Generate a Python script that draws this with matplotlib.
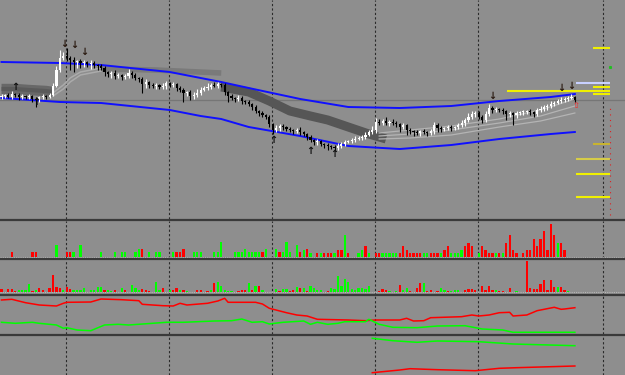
import numpy as np
import matplotlib
matplotlib.use("Agg")
import matplotlib.pyplot as plt
from matplotlib.lines import Line2D

BG = "#8e8e8e"
W, H = 625, 375

# ---- main chart: candle closes (open = previous close) ----
close = [
    124, 125, 123, 126, 125, 123, 124, 123, 124, 121,
    120, 123, 124, 123, 125, 134, 150, 162, 164, 162,
    160, 158, 159, 157, 158, 156, 157, 155, 154, 152,
    148, 146, 147, 144, 145, 143, 144, 147, 145, 142,
    141, 136, 138, 135, 134, 135, 133, 134, 137, 135,
    136, 132, 130, 127, 128, 124, 125, 127, 130, 132,
    133, 135, 134, 136, 135, 128, 124, 122, 121, 122,
    119, 118, 116, 113, 109, 107, 105, 103, 96, 90,
    92, 94, 93, 91, 90, 89, 90, 88, 86, 83,
    80, 78, 79, 76, 75, 74, 73, 72, 74, 76,
    78, 79, 80, 81, 82, 83, 85, 88, 90, 98,
    97, 99, 97, 98, 97, 96, 93, 95, 90, 89,
    88, 87, 89, 88, 87, 89, 95, 92, 91, 92,
    93, 92, 93, 95, 97, 100, 103, 106, 107, 103,
    100, 106, 112, 110, 111, 110, 109, 106, 107, 105,
    107, 108, 108, 109, 108, 106, 110, 111, 113, 114,
    116, 117, 119, 120, 121, 122, 123, 120,
]
first_open = 123
wick_up = [
    2, 1, 2, 3, 1, 2, 2, 1, 2, 1,
    2, 1, 2, 1, 2, 3, 4, 8, 4, 8,
    2, 3, 1, 2, 2, 1, 3, 2, 1, 2,
    2, 1, 2, 3, 2, 1, 2, 4, 2, 2,
    1, 2, 3, 1, 2, 2, 1, 3, 2, 1,
    2, 1, 2, 2, 1, 2, 3, 4, 3, 2,
    4, 2, 3, 2, 1, 2, 1, 2, 1, 3,
    2, 1, 2, 1, 2, 1, 2, 1, 2, 1,
    3, 2, 2, 1, 2, 1, 2, 3, 1, 1,
    2, 1, 2, 1, 1, 2, 1, 2, 3, 2,
    2, 1, 2, 3, 2, 2, 3, 2, 4, 4,
    3, 2, 4, 2, 3, 2, 1, 2, 1, 2,
    1, 2, 1, 2, 1, 2, 3, 2, 2, 1,
    2, 2, 1, 2, 3, 2, 4, 3, 2, 2,
    2, 3, 4, 2, 2, 1, 2, 1, 2, 1,
    2, 1, 2, 1, 2, 1, 2, 3, 2, 2,
    3, 2, 2, 3, 2, 2, 3, 1,
]
wick_dn = [
    2, 2, 1, 2, 2, 3, 2, 2, 2, 3,
    7, 2, 2, 2, 1, 1, 1, 2, 2, 3,
    10, 10, 6, 5, 4, 3, 5, 3, 4, 2,
    4, 3, 4, 3, 2, 3, 2, 2, 3, 2,
    3, 9, 4, 3, 2, 3, 2, 2, 3, 2,
    2, 3, 2, 9, 3, 4, 3, 2, 2, 1,
    2, 2, 1, 2, 2, 3, 6, 2, 3, 2,
    3, 2, 2, 3, 2, 3, 2, 2, 3, 4,
    2, 3, 3, 2, 2, 3, 2, 3, 2, 3,
    2, 3, 3, 2, 3, 4, 2, 3, 2, 2,
    2, 1, 2, 2, 1, 2, 2, 1, 2, 3,
    2, 2, 2, 3, 2, 3, 5, 2, 5, 3,
    4, 2, 3, 2, 3, 2, 3, 4, 3, 2,
    2, 3, 2, 2, 2, 3, 2, 2, 3, 2,
    3, 2, 2, 3, 2, 2, 3, 6, 3, 10,
    3, 2, 3, 2, 3, 3, 2, 2, 2, 3,
    2, 2, 1, 2, 2, 2, 1, 2,
]

# envelope bands
env_idx = [0, 17, 29, 49, 58, 64, 72, 87, 101, 116, 131, 145, 160, 167]
env_upper = [158, 157, 155, 148, 142, 138, 132, 121, 113, 112, 114, 119, 123, 126]
env_lower = [122, 118, 117, 110, 104, 101, 93, 84, 74, 71, 75, 81, 86, 88]

# moving average ribbon pieces
band_a_idx = [0, 4, 8, 13, 15]
band_a = [131, 131, 130, 129, 128]
curve_b_idx = [15, 18, 20, 23, 29]
curve_b1 = [127, 135, 142, 148, 152]
curve_b2 = [124, 131, 138, 145, 149]
band_c_idx = [29, 45, 64]
band_c = [151, 150, 147]
band_d_idx = [64, 72, 78, 84, 90, 95, 101, 107, 112]
band_d = [133, 128, 119, 109, 104, 100, 93, 86, 81]
light_idx = [110, 119, 131, 145, 157, 167]
light_1 = [87, 90, 94, 101, 110, 121]
light_2 = [84, 86, 90, 97, 104, 114]
light_3 = [81, 82, 85, 93, 99, 107]

# signal arrows
down_idx = [18.4, 21.2, 24, 143, 163, 166]
down_val = [176, 175, 168, 124, 132, 134]
up_idx = [4, 10, 79, 90, 97]
up_val = [133, 118, 80, 69, 66]

current_price = 120

# right-hand levels: price, start index, colour
lvl_price = [172, 137, 133, 129, 126, 76, 61, 46, 23]
lvl_start = [172.3, 167.3, 172.3, 147.2, 172.3, 172.3, 167.3, 167.3, 167.3]
lvl_color = ["#f0f000", "#c8d0ff", "#f0f000", "#f0f000", "#f0f000",
             "#c8b430", "#d6cc48", "#f0f000", "#f0f000"]
lvl_end = 177.2

separators = [18.75, 48.75, 78.75, 108.75, 138.75, 175.25]

# ---- histogram panel 1 ----
p1_idx = [3, 9, 10, 16, 19, 20, 21, 23, 29, 33,
          35, 36, 39, 40, 41, 43, 45, 46, 50, 51,
          52, 53, 56, 57, 58, 62, 63, 64, 68, 69,
          70, 71, 72, 73, 74, 75, 76, 77, 80, 81,
          82, 83, 84, 86, 87, 88, 89, 90, 92, 93,
          94, 95, 96, 97, 98, 99, 100, 101, 104, 105,
          106, 107, 109, 110, 111, 112, 113, 114, 115, 116,
          117, 118, 119, 120, 121, 122, 123, 124, 125, 126,
          127, 128, 129, 130, 131, 132, 133, 134, 135, 136,
          137, 139, 140, 141, 142, 143, 144, 145, 146, 147,
          148, 149, 150, 152, 153, 154, 155, 156, 157, 158,
          159, 160, 161, 162, 163, 164]
p1_val = [5, 5, 5, 12, 5, 5, 5, 12, 5, 5,
          5, 5, 5, 8, 8, 5, 5, 5, 5, 5,
          5, 8, 5, 5, 5, 5, 5, 15, 5, 5,
          5, 8, 5, 5, 5, 5, 5, 8, 8, 5,
          5, 15, 5, 12, 5, 7, 8, 4, 4, 4,
          4, 4, 4, 4, 7, 7, 22, 4, 4, 7,
          11, 4, 4, 4, 4, 4, 4, 4, 4, 4,
          11, 7, 4, 4, 4, 4, 4, 4, 4, 4,
          4, 4, 7, 11, 4, 4, 4, 7, 11, 14,
          11, 4, 11, 7, 4, 4, 4, 4, 4, 14,
          22, 7, 4, 4, 7, 7, 18, 11, 18, 26,
          7, 33, 22, 14, 14, 7]
p1_col = ("rrrgrrgggg" "ggggrggggr" "rrgggggggg" "ggggggrggr"
          "ggggrgrgrg" "rrrgrrgrgg" "rgrrgggggr" "rrrrrrggrr"
          "rgrrggggrr" "rgrrrrgrgr" "rrrrrrrrrr" "rrrgrr")

# ---- histogram panel 2 ----
p2_idx = [0, 2, 3, 4, 5, 6, 7, 8, 9, 10,
          11, 12, 14, 15, 16, 17, 18, 19, 20, 21,
          22, 23, 24, 26, 27, 28, 29, 30, 31, 32,
          33, 35, 36, 38, 39, 40, 41, 42, 43, 45,
          46, 47, 49, 50, 51, 52, 53, 54, 57, 58,
          60, 61, 62, 63, 64, 65, 66, 67, 69, 70,
          71, 72, 73, 74, 75, 76, 80, 81, 82, 83,
          84, 85, 86, 87, 88, 89, 90, 91, 92, 93,
          95, 96, 97, 98, 99, 100, 101, 102, 103, 104,
          105, 106, 107, 110, 111, 112, 113, 115, 116, 117,
          118, 119, 121, 122, 123, 124, 125, 127, 128, 129,
          130, 131, 132, 133, 135, 136, 137, 138, 140, 141,
          142, 143, 144, 145, 146, 148, 150, 153, 154, 155,
          156, 157, 158, 159, 160, 161, 162, 163, 164, 165]
p2_val = [3, 3, 3, 1, 2, 2, 2, 8, 1, 2,
          4, 2, 4, 17, 5, 4, 2, 5, 3, 2,
          2, 2, 4, 2, 2, 5, 5, 2, 2, 1,
          2, 4, 2, 7, 4, 2, 3, 2, 1, 10,
          2, 4, 2, 2, 4, 2, 2, 1, 2, 2,
          1, 2, 9, 10, 6, 2, 1, 1, 1, 2,
          2, 9, 2, 6, 6, 2, 3, 1, 3, 3,
          1, 2, 5, 4, 4, 1, 6, 4, 2, 2,
          1, 4, 3, 16, 6, 13, 10, 3, 2, 4,
          4, 3, 6, 1, 3, 2, 1, 1, 7, 2,
          4, 1, 4, 9, 9, 1, 2, 1, 4, 2,
          1, 1, 2, 2, 2, 3, 3, 2, 6, 2,
          6, 2, 2, 1, 1, 4, 1, 31, 4, 3,
          3, 8, 12, 2, 12, 5, 5, 5, 2, 1]
p2_col = ("rrrrggggrg" "rrrrrrgrrg" "gggggggrgg" "rgrgggrrrg"
          "grgrrgrgrr" "rgrgggggrr" "rgrgrggrgg" "rrgrgrgggg"
          "rggggggggg" "gggrrrggrg" "grrrgrrrgg" "rgggrrrrrr"
          "rrgrrrgrrr" "rrrrrrgrrg")

# ---- line panel 3 ----
p3_red_idx = [0, 3, 7, 11, 16, 18, 19, 26, 29, 35, 40, 41, 47, 50, 52, 54,
              60, 63, 65, 66, 74, 76, 78, 83, 86, 89, 92, 101, 106, 109,
              116, 118, 120, 123, 125, 134, 137, 139, 142, 145, 148, 149,
              153, 156, 161, 163, 164, 167]
p3_red = [34, 34.7, 31.3, 29, 28, 30.7, 31.7, 32, 35, 34.3, 33.3, 29.7,
          28.3, 28, 30.7, 29, 30.7, 33, 35.7, 31.7, 31.7, 30, 25.7, 21.3,
          19, 18, 14.7, 14, 13.3, 14, 14, 15.7, 13, 13.3, 16.3, 17.3, 19,
          18, 19, 21.3, 21.7, 18, 19, 23.3, 26.7, 24.7, 25, 26.3]
p3_green_idx = [0, 4, 9, 11, 16, 18, 19, 22, 26, 30, 34, 37, 44, 48, 53,
                62, 67, 70, 73, 76, 78, 82, 88, 90, 92, 95, 98, 100, 106,
                107, 110, 114, 121, 127, 135, 140, 146, 149, 167]
p3_green = [11.7, 10.7, 11.7, 10.7, 9, 5.7, 6.3, 4, 3.3, 9, 9.7, 9, 10.7,
            11.7, 11.7, 13, 13.3, 15, 11.7, 12.3, 10, 11.7, 13, 9.7, 11.7,
            9.7, 10.7, 12.3, 12.3, 14.7, 9.7, 6.7, 6.3, 8, 8.3, 5, 4, 1.7, 1.7]

# ---- line panel 4 ----
p4_green_idx = [108, 114, 121, 127, 139, 149, 167]
p4_green = [36.7, 34.3, 32.7, 34, 33.3, 31, 29.3]
p4_red_idx = [108, 116, 119, 127, 138, 145, 150, 167]
p4_red = [2.3, 5, 6.3, 5.3, 4.3, 6.7, 7.3, 9]

XMIN, XMAX = -0.44, 181.6
RED, GREEN = "#ff0000", "#00ff00"

fig = plt.figure(figsize=(W / 100, H / 100), dpi=100, facecolor=BG)


def panel(top, bottom, ylim):
    ax = fig.add_axes([0, 1 - bottom / H, 1, (bottom - top) / H])
    ax.set_facecolor(BG)
    ax.set_xlim(XMIN, XMAX)
    ax.set_ylim(*ylim)
    ax.set_axis_off()
    for s in separators:
        ax.axvline(s, color="#2a2a2a", lw=0.8, ls=(0, (2, 2)), zorder=0)
    return ax


# main chart
ax = panel(0, 219, (1, 220))
ax.axhline(current_price, color="#767676", lw=0.9, zorder=1)
ax.plot(band_a_idx, band_a, color="#686868", lw=7.5, solid_capstyle="butt", zorder=2)
ax.plot(band_a_idx, band_a, color="#5a5a5a", lw=3, solid_capstyle="butt", zorder=2)
ax.plot(band_c_idx, band_c, color="#7a7a7a", lw=4, solid_capstyle="butt", zorder=2)
ax.plot(band_d_idx, band_d, color="#565656", lw=6.5, solid_capstyle="butt", zorder=2)
for ys in (curve_b1, curve_b2):
    ax.plot(curve_b_idx, ys, color="#ababab", lw=1.1, zorder=2)
for ys in (light_1, light_2, light_3):
    ax.plot(light_idx, ys, color="#b4b4b4", lw=0.9, zorder=2)
ax.plot(env_idx, env_upper, color="#1010ff", lw=1.4, zorder=3)
ax.plot(env_idx, env_lower, color="#1010ff", lw=1.4, zorder=3)

idx = np.arange(len(close))
c = np.array(close, dtype=float)
o = np.concatenate([[first_open], c[:-1]])
top = np.maximum(o, c)
bot = np.minimum(o, c)
hi = top + np.array(wick_up)
lo = bot - np.array(wick_dn)
bull = c >= o
cols = np.where(bull, "#ffffff", "#000000")
ax.vlines(idx, lo, hi, colors=cols, lw=0.8, zorder=4)
ax.bar(idx, np.maximum(top - bot, 0.9), bottom=bot, width=0.62, color=cols, zorder=5)

for i, v in zip(down_idx, down_val):
    ax.text(i, v, "\u2193", ha="center", va="center", fontsize=7,
            fontweight="bold", color="#2a1a10", zorder=6)
for i, v in zip(up_idx, up_val):
    ax.text(i, v, "\u2191", ha="center", va="center", fontsize=7,
            fontweight="bold", color="#101010", zorder=6)
ax.text(167.3, 115, "\u21e7", ha="center", va="center", fontsize=6,
        color="#ff2020", zorder=6)

for p, s, col in zip(lvl_price, lvl_start, lvl_color):
    ax.plot([s, lvl_end], [p, p], color=col, lw=1.5, solid_capstyle="butt", zorder=3)
ax.plot([177.2, 177.2], [5, 115], color="#e02020", lw=0.8, ls=(0, (1, 4)), zorder=3)
ax.plot([177.2], [153], marker="s", ms=1.2, color="#20c020", zorder=3)

# histogram panels
ax1 = panel(221, 258, (-1.3, 35.7))
ax1.axhline(0, color="#b8b8b8", lw=0.8, ls=(0, (1, 1)), zorder=1)
ax1.bar(p1_idx, p1_val, width=0.65,
        color=[GREEN if k == "g" else RED for k in p1_col], zorder=2)

ax2 = panel(259, 294.5, (-2.5, 33))
ax2.axhline(0, color="#b8b8b8", lw=0.8, ls=(0, (1, 1)), zorder=1)
ax2.bar(p2_idx, p2_val, width=0.65,
        color=[GREEN if k == "g" else RED for k in p2_col], zorder=2)

# line panels
ax3 = panel(296, 334, (0, 38))
ax3.plot(p3_red_idx, p3_red, color=RED, lw=1.1)
ax3.plot(p3_green_idx, p3_green, color=GREEN, lw=1.1)

ax4 = panel(336, 375, (0, 39))
ax4.plot(p4_green_idx, p4_green, color=GREEN, lw=1.1)
ax4.plot(p4_red_idx, p4_red, color=RED, lw=1.1)

# dark panel separators
for y in (220, 258.5, 295, 335):
    fig.add_artist(Line2D([0, 1], [1 - y / H] * 2, color="#3a3a3a", lw=1.6))

fig.savefig("out.png", dpi=100, facecolor=BG)
